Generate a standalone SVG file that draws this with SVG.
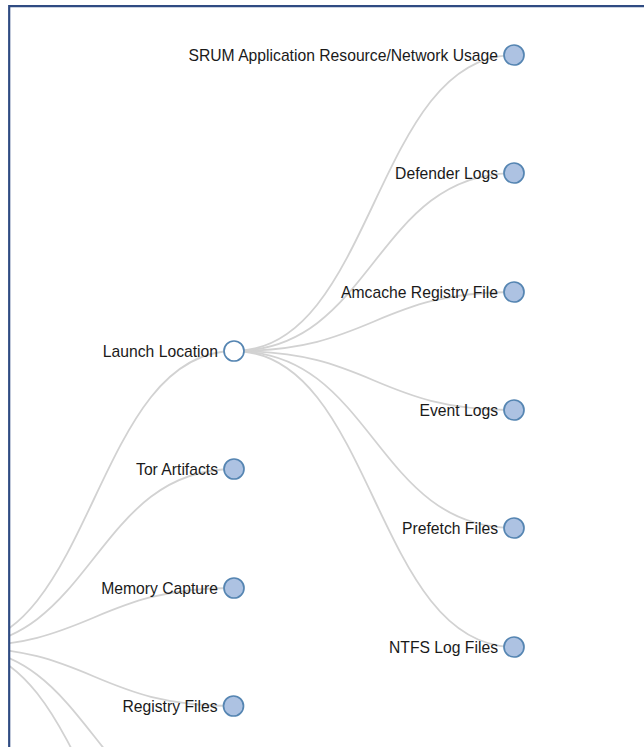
<svg xmlns="http://www.w3.org/2000/svg" width="644" height="747" viewBox="0 0 644 747">
  <defs>
    <style>
      .link { fill: none; stroke: #d2d2d2; stroke-width: 1.8; }
      .node circle { stroke: #5585b2; stroke-width: 1.7; }
      .node.collapsed circle { fill: #adc2e2; }
      .node.expanded circle { fill: #ffffff; }
      .node text { font-family: "Liberation Sans", Arial, Helvetica, sans-serif; font-size: 15.7px; fill: #1a1a1a; text-anchor: end; }
      .frame { fill: none; stroke: #2f4b82; stroke-width: 2.2; }
    </style>
    <clipPath id="inside">
      <rect x="10" y="7" width="640" height="745"/>
    </clipPath>
  </defs>

  <rect x="0" y="0" width="644" height="747" fill="#ffffff"/>

  <g clip-path="url(#inside)">
    <!-- connectors: horizontal tree diagonals -->
    <g id="links">
      <!-- root (-46,647) to first level -->
      <path class="link" d="M-46,647 C94,647 94,351 234,351"/>
      <path class="link" d="M-46,647 C94,647 94,469 234,469"/>
      <path class="link" d="M-46,647 C94,647 94,588 234,588"/>
      <path class="link" d="M-46,647 C94,647 94,706 234,706"/>
      <path class="link" d="M-46,647 C94,647 94,825 234,825"/>
      <path class="link" d="M-46,647 C94,647 94,943 234,943"/>
      <!-- Launch Location to its children -->
      <path class="link" d="M234,351 C374,351 374,55 514,55"/>
      <path class="link" d="M234,351 C374,351 374,173 514,173"/>
      <path class="link" d="M234,351 C374,351 374,292 514,292"/>
      <path class="link" d="M234,351 C374,351 374,410 514,410"/>
      <path class="link" d="M234,351 C374,351 374,528 514,528"/>
      <path class="link" d="M234,351 C374,351 374,647 514,647"/>
    </g>

    <g id="launch-location" class="node expanded" transform="translate(234,351)">
      <circle r="10"/>
      <text x="-16" dy="5.5">Launch Location</text>
    </g>
    <g id="tor-artifacts" class="node collapsed" transform="translate(234,469)">
      <circle r="10"/>
      <text x="-16" dy="5.5">Tor Artifacts</text>
    </g>
    <g id="memory-capture" class="node collapsed" transform="translate(234,588)">
      <circle r="10"/>
      <text x="-16" dy="5.5">Memory Capture</text>
    </g>
    <g id="registry-files" class="node collapsed" transform="translate(233.5,706)">
      <circle r="10"/>
      <text x="-16" dy="5.5">Registry Files</text>
    </g>

    <g id="srum" class="node collapsed" transform="translate(514,55)">
      <circle r="10"/>
      <text x="-16" dy="5.5">SRUM Application Resource/Network Usage</text>
    </g>
    <g id="defender-logs" class="node collapsed" transform="translate(514,173)">
      <circle r="10"/>
      <text x="-16" dy="5.5">Defender Logs</text>
    </g>
    <g id="amcache" class="node collapsed" transform="translate(514,292)">
      <circle r="10"/>
      <text x="-16" dy="5.5">Amcache Registry File</text>
    </g>
    <g id="event-logs" class="node collapsed" transform="translate(514,410)">
      <circle r="10"/>
      <text x="-16" dy="5.5">Event Logs</text>
    </g>
    <g id="prefetch" class="node collapsed" transform="translate(514,528)">
      <circle r="10"/>
      <text x="-16" dy="5.5">Prefetch Files</text>
    </g>
    <g id="ntfs-logs" class="node collapsed" transform="translate(514,647)">
      <circle r="10"/>
      <text x="-16" dy="5.5">NTFS Log Files</text>
    </g>
  </g>

  <!-- outer frame (top and left edges) -->
  <path class="frame" d="M9.2,760 L9.2,6.2 L660,6.2"/>
</svg>
